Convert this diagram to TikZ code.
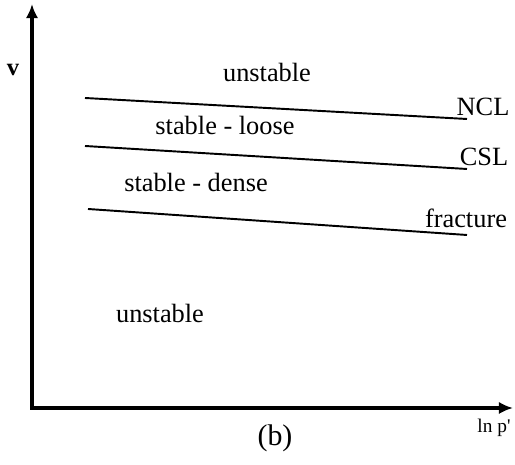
\documentclass[tikz,border=0pt]{standalone}
\usepackage{fontspec}
\setmainfont{Liberation Serif}
\usepackage{tikz}
\usetikzlibrary{arrows.meta,positioning}

\begin{document}
\begin{tikzpicture}[
    x=1cm,y=1cm,
    axe/.style     = {line width=1.9pt, -{Latex[length=8pt,width=7pt]}},
    droite/.style  = {line width=1.1pt},
    zone/.style    = {font=\fontsize{15}{17}\selectfont},
    nomdroite/.style = {font=\fontsize{15}{17}\selectfont},
  ]
  \useasboundingbox (0,0) rectangle (10.3,9.3);

  % ── Axes ────────────────────────────────────────────────────────────────
  \coordinate (origine) at (0.64,1.14);
  \coordinate (haut)    at (0.64,9.22);
  \coordinate (droite)  at (10.26,1.14);
  \draw[axe] ([yshift=-0.95pt]origine) -- (haut);
  \draw[axe] ([xshift=-0.95pt]origine) -- (droite);
  \node[font=\bfseries\fontsize{14}{16}\selectfont] (v) at (0.26,7.9) {v};
  \node[font=\fontsize{11}{13}\selectfont] (lnp) at (9.88,0.74) {ln p\textquotesingle};

  % ── Droites ─────────────────────────────────────────────────────────────
  \coordinate (ncl-a) at (1.70,7.34);  \coordinate (ncl-b) at (9.34,6.92);
  \coordinate (csl-a) at (1.70,6.38);  \coordinate (csl-b) at (9.34,5.92);
  \coordinate (fra-a) at (1.76,5.12);  \coordinate (fra-b) at (9.34,4.60);
  \draw[droite] (ncl-a) -- (ncl-b);
  \draw[droite] (csl-a) -- (csl-b);
  \draw[droite] (fra-a) -- (fra-b);

  \node[nomdroite] (ncl) at (9.66,7.17) {NCL};
  \node[nomdroite] (csl) at (9.68,6.17) {CSL};
  \node[nomdroite] (fra) at (9.32,4.93) {fracture};

  % ── Domaines ────────────────────────────────────────────────────────────
  \node[zone] (inst-haut) at (5.34,7.86) {unstable};
  \node[zone] (lache)     at (4.50,6.80) {stable - loose};
  \node[zone] (dense)     at (3.92,5.66) {stable - dense};
  \node[zone] (inst-bas)  at (3.20,3.04) {unstable};

  \node[font=\fontsize{17}{19}\selectfont] (titre) at (5.50,0.54) {(b)};

\end{tikzpicture}
\end{document}
